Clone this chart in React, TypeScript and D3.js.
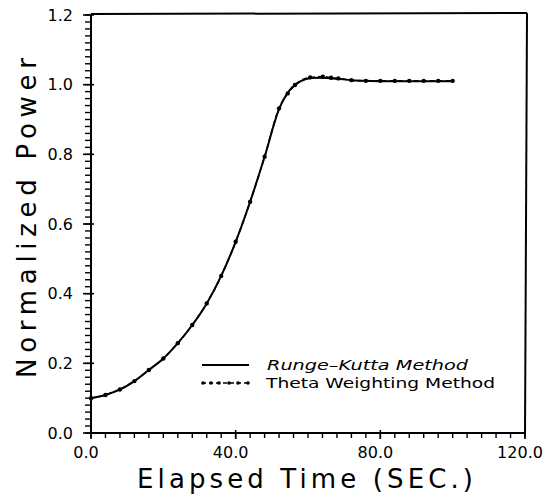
import React from "react";
import * as d3 from "d3";

const thetaTime = [0, 4, 8, 12, 16, 20, 24, 28, 32, 36, 40, 44, 48, 52, 54.4, 56.4, 60.6, 64.1, 66.4, 68.4, 72, 76, 80, 84, 88, 92, 96, 100];
const thetaPower = [0.100, 0.109, 0.125, 0.149, 0.181, 0.214, 0.258, 0.310, 0.372, 0.451, 0.549, 0.664, 0.793, 0.932, 0.975, 0.999, 1.021, 1.023, 1.020, 1.018, 1.013, 1.011, 1.011, 1.011, 1.011, 1.011, 1.011, 1.011];

const rkTime = [0, 4, 8, 12, 16, 20, 24, 28, 32, 36, 40, 44, 48, 52, 55, 58, 61, 64, 68, 72, 76, 80, 84, 88, 92, 96, 100];
const rkPower = [0.100, 0.109, 0.125, 0.149, 0.181, 0.214, 0.258, 0.310, 0.372, 0.451, 0.549, 0.664, 0.793, 0.930, 0.985, 1.010, 1.019, 1.020, 1.017, 1.013, 1.011, 1.010, 1.010, 1.010, 1.010, 1.010, 1.010];

const xMajorTicks = [0, 40, 80, 120];
const yMajorTicks = [0, 0.2, 0.4, 0.6, 0.8, 1.0, 1.2];
const legendLabels = ["Runge\u2013Kutta Method", "Theta Weighting Method"];
const xTitle = "Elapsed Time (SEC.)";
const yTitle = "Normalized Power";

const W = 548, H = 496;
const L = 91, R = 525, T = 15, B = 433;
const FONT = "'DejaVu Sans', sans-serif";

export default function App() {
  const x = d3.scaleLinear().domain([0, 120]).range([L, R]);
  const y = d3.scaleLinear().domain([0, 1.2]).range([B, T]);

  const rkLine = d3.line<number>().x((_, i) => x(rkTime[i])).y((d) => y(d)).curve(d3.curveMonotoneX);
  const thLine = d3.line<number>().x((_, i) => x(thetaTime[i])).y((d) => y(d)).curve(d3.curveMonotoneX);

  const xMinor = d3.range(0, 120.001, 4);
  const yMinor = d3.range(0, 1.2001, 0.02);

  return (
    <svg width={W} height={H} style={{ position: "absolute", left: 0, top: 0, background: "#fff" }}>
      <rect x={0} y={0} width={W} height={H} fill="#fff" />
      {/* frame */}
      <line x1={L} y1={T - 1} x2={R + 2} y2={T - 2} stroke="#000" strokeWidth={2} />
      <line x1={R + 2} y1={T - 2} x2={R} y2={B + 3} stroke="#000" strokeWidth={2} />
      <line x1={L} y1={T - 1} x2={L} y2={B} stroke="#000" strokeWidth={2} />
      <line x1={L} y1={B} x2={R} y2={B} stroke="#000" strokeWidth={2} />

      {/* y ticks */}
      {yMinor.map((v, i) => (
        <line key={"ym" + i} x1={L - 6} x2={L} y1={y(v)} y2={y(v)} stroke="#000" strokeWidth={1.4} />
      ))}
      {yMajorTicks.map((v, i) => (
        <g key={"yM" + i}>
          <line x1={L - 8} x2={L + 3} y1={y(v)} y2={y(v)} stroke="#000" strokeWidth={1.6} />
          <text x={73} y={y(v)} dy="0.36em" textAnchor="end" fontFamily={FONT} fontSize={16} fill="#000">
            {v.toFixed(1)}
          </text>
        </g>
      ))}

      {/* x ticks */}
      {xMinor.map((v, i) => (
        <line key={"xm" + i} x1={x(v)} x2={x(v)} y1={B} y2={B + 5} stroke="#000" strokeWidth={1.4} />
      ))}
      {xMajorTicks.map((v, i) => (
        <g key={"xM" + i}>
          <line x1={x(v)} x2={x(v)} y1={B - 3} y2={B + 6} stroke="#000" strokeWidth={1.6} />
          <text x={x(v) - 5} y={458} textAnchor="middle" fontFamily={FONT} fontSize={16} fill="#000">
            {v.toFixed(1)}
          </text>
        </g>
      ))}

      {/* curves */}
      <path d={rkLine(rkPower) || ""} fill="none" stroke="#000" strokeWidth={2} />
      <path d={thLine(thetaPower) || ""} fill="none" stroke="#000" strokeWidth={1.6} strokeDasharray="5,3" />
      {thetaPower.map((p, i) => (
        <circle key={"d" + i} cx={x(thetaTime[i])} cy={y(p)} r={2.2} fill="#000" />
      ))}

      {/* legend */}
      <line x1={202} x2={249} y1={365} y2={365} stroke="#000" strokeWidth={1.8} />
      <text x={267} y={370} fontFamily={FONT} fontSize={14} fontStyle="italic" fill="#000" textLength={201} lengthAdjust="spacingAndGlyphs">
        {legendLabels[0]}
      </text>
      <line x1={202} x2={249} y1={383} y2={383} stroke="#000" strokeWidth={1.4} strokeDasharray="4,3" />
      {[203, 211, 219, 229, 238, 248].map((cx, i) => (
        <circle key={"ld" + i} cx={cx} cy={383} r={1.8} fill="#000" />
      ))}
      <text x={266} y={388} fontFamily={FONT} fontSize={14} fill="#000" textLength={229} lengthAdjust="spacingAndGlyphs">
        {legendLabels[1]}
      </text>

      {/* axis titles */}
      <text x={305} y={488} textAnchor="middle" fontFamily={FONT} fontSize={26} fill="#000" textLength={336} lengthAdjust="spacing">
        {xTitle}
      </text>
      <text transform="translate(36,218) rotate(-90)" textAnchor="middle" fontFamily={FONT} fontSize={26} fill="#000" textLength={320} lengthAdjust="spacing">
        {yTitle}
      </text>
    </svg>
  );
}
